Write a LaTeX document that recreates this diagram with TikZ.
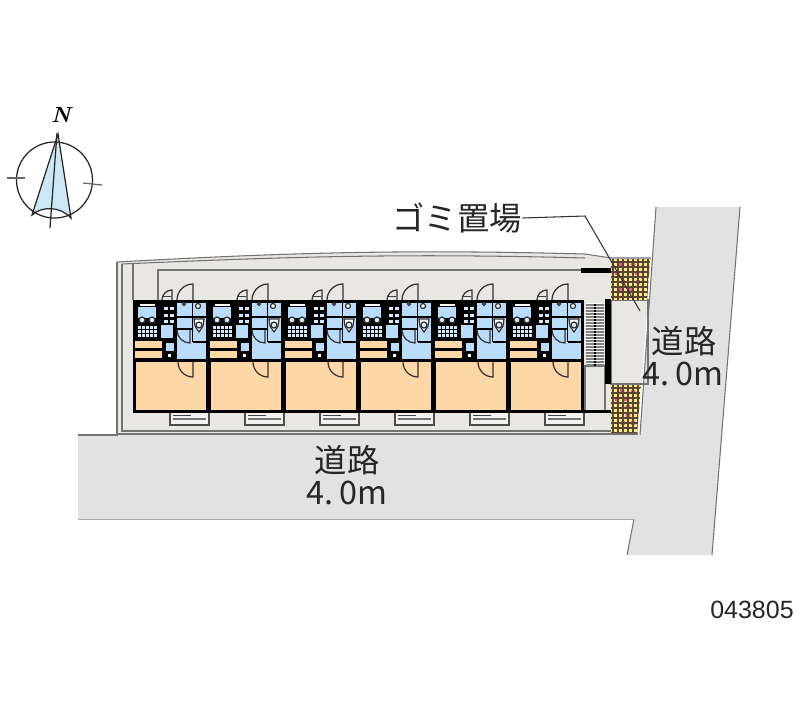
\documentclass[tikz,border=0pt]{standalone}
\usepackage{fontspec}
\newfontfamily\cjk{Noto Sans CJK JP}
\newfontfamily\numfont{Liberation Sans}
\usepackage{tikz}
\definecolor{roadgray}{RGB}{226,226,226}
\definecolor{sitegray}{RGB}{233,231,228}
\definecolor{roompeach}{RGB}{253,215,165}
\definecolor{wetblue}{RGB}{185,220,250}
\definecolor{tileyellow}{RGB}{252,232,140}
\definecolor{tilebrown}{RGB}{90,70,45}
\definecolor{tilepink}{RGB}{228,90,150}
\definecolor{needleblue}{RGB}{205,232,245}
\tikzset{
	thinline/.style = {line width = 0.25pt, black!75},
	siteline/.style = {line width = 0.3pt, black!55},
	wall/.style = {line width = 0.5pt, black},
	doorline/.style = {line width = 0.35pt, black!80},
	tileline/.style = {line width = 0.42pt, tilebrown},
	northline/.style = {line width = 0.35pt, black!85},
	bigtext/.style = {font = \cjk\fontsize{9.2}{10}\selectfont, text = black!85, inner sep = 0pt},
}

\begin{document}
\begin{tikzpicture}[x = 0.01cm, y = -0.01cm]
	\useasboundingbox (0,0) rectangle (800,727);

	% roads
	\begin{scope}
		\fill [roadgray] (78,435) -- (640,435) -- (656,207) -- (740,207) -- (712,555) -- (627,555) -- (634,519) -- (78,519) -- cycle;
		\draw [siteline] (656,207) -- (640,435);
		\draw [siteline] (740,207) -- (712,555);
		\draw [siteline] (634,519) -- (627,555);
		\draw [siteline] (78,435) -- (118,435);
		\draw [thinline, black!35] (78,519) -- (634,519);
	\end{scope}

	% site
	\begin{scope}
		\fill [sitegray] (117,262) .. controls (280,253) and (400,249) .. (585,254) -- (611,258) -- (651,258) -- (638,433) -- (117,433) -- cycle;
		\draw [siteline] (117,262) .. controls (280,253) and (400,249) .. (585,254) -- (611,258) -- (651,258);
		\draw [siteline] (122,264) .. controls (280,257) and (400,253) .. (585,258);
		\draw [siteline] (117,262) -- (117,434) -- (638,434);
		\draw [siteline] (122,264) -- (122,431) -- (611,431);
		\draw [siteline] (133,263) -- (133,300);
		\draw [siteline] (158,300) -- (158,270) -- (582,270);
		\draw [siteline] (585,366) rectangle (605,412);
		\draw [siteline] (611,300) rectangle (648,384);
	\end{scope}

	% building
	\fill [black] (133,300) rectangle (584,413);
	\foreach \dx in {0,75,...,375} {
		\begin{scope}[shift = {(\dx,0)}]
			% balcony
			\draw [siteline, black!70, fill = sitegray!50!white] (170,413) -- (170,425) -- (209,425) -- (209,413);
			\draw [siteline] (173,419) -- (206,419);
			\draw [thinline] (173,415) -- (191,415);
			% rooms
			\fill [roompeach] (136,362) rectangle (206,410);
			\fill [roompeach] (135,341) rectangle (162,348);
			\fill [roompeach] (135,351) rectangle (162,358);
			\fill [wetblue] (177,303) rectangle (206,359);
			\fill [black] (192,303) rectangle (193,342);
			\fill [wetblue] (161,325) rectangle (173,338);
			\fill [wetblue] (138,307) rectangle (156,318);
			\fill [white] (140,304) rectangle (155,306);
			\draw [wall] (177,317) -- (192,317);
			\draw [wall] (177,329) -- (192,329);
			\draw [wall] (193,342) -- (206,342);
			\draw [wall] (193,317) -- (206,317);
			% unit bath tiles
			\foreach \tx in {138,142,...,154} {
				\foreach \ty in {326,330,334} {
					\fill [wetblue!60!white] (\tx,\ty) rectangle +(3,3);
				}
			}
			\draw [doorline, fill = wetblue!60!white] (142,320) circle (3);
			\draw [doorline, fill = wetblue!60!white] (152,320) circle (3);
			% kitchen
			\foreach \ky in {307,314,320} {
				\fill [wetblue!60!white] (164,\ky) rectangle +(4,3);
				\fill [wetblue!60!white] (170,\ky) rectangle +(4,3);
			}
			\fill [wetblue] (166,343) rectangle (174,351);
			\fill [white] (168,354) rectangle +(3,3);
			% toilet
			\draw [doorline, fill = white] (194,319) -- (204,319) -- (203,326) -- (199,332) -- (195,326) -- cycle;
			\draw [doorline, fill = wetblue!50!white] (199,325) circle (3);
			\draw [doorline, fill = white] (198,306) circle (2.5);
			\draw [doorline, fill = white] (184,304) circle (1.5);
			% doors
			\draw [doorline] (177,330) arc (180:90:13) -- (190,330);
			\draw [doorline] (178,362) arc (180:90:15) -- (193,362);
			\draw [doorline] (177,300) arc (180:270:16) -- (193,300);
			\draw [doorline] (162,300) arc (180:270:10) -- (172,300);
			\draw [thinline] (163,296) -- (171,296);
		\end{scope}
	}

	% stairs
	\begin{scope}
		\fill [white] (586,303) rectangle (604,366);
		\foreach \sy in {305,308,...,365} {
			\draw [line width = 0.3pt, black!50] (586,\sy) -- (604,\sy);
		}
		\draw [line width = 0.45pt, black, dash pattern = on 0.6pt off 0.25pt] (595,304) -- (595,366);
		\fill [black] (605,299) rectangle (611,384);
		\fill [black] (581,268) rectangle (611,273);
		\fill [black] (584,410) rectangle (611,413);
	\end{scope}

	% paved tiles
	\begin{scope}
		\clip (611,259) -- (650,259) -- (647,300) -- (611,300) -- cycle;
		\fill [tileyellow] (611,259) rectangle (651,300);
		\foreach \px/\py in {620/265,633/265,617/273,637/273,623/282,638/282,620/290,630/290} {
			\fill [tilepink] (\px,\py) circle (2.5);
		}
		\foreach \tx in {613,618,...,650} {
			\draw [tileline] (\tx,259) -- (\tx,300);
		}
		\foreach \ty in {262,267,...,300} {
			\draw [tileline] (611,\ty) -- (651,\ty);
		}
	\end{scope}
	\begin{scope}
		\clip (611,385) -- (641,385) -- (637,433) -- (611,433) -- cycle;
		\fill [tileyellow] (611,385) rectangle (641,433);
		\foreach \px/\py in {622/391,633/392,617/399,625/399,628/407,628/415,623/423,633/423} {
			\fill [tilepink] (\px,\py) circle (2.5);
		}
		\foreach \tx in {613,618,...,643} {
			\draw [tileline] (\tx,385) -- (\tx,433);
		}
		\foreach \ty in {388,393,...,435} {
			\draw [tileline] (611,\ty) -- (641,\ty);
		}
	\end{scope}

	% labels
	\node [bigtext] (garbage) at (457,218) {ゴミ置場};
	\node [bigtext] (roadRa) at (684,341) {道路};
	\node [bigtext] (roadRb) at (683,374) {4.\,0m};
	\node [bigtext] (roadBa) at (347,460) {道路};
	\node [bigtext] (roadBb) at (347,493) {4.\,0m};
	\node [font = \numfont\fontsize{7.1}{8}\selectfont, text = black!85] (photoNo) at (752,610) {043805};

	% leader
	\coordinate (bend) at (585,216);
	\coordinate (leaderEnd) at (640,311);
	\draw [line width = 0.3pt, black!80] (garbage.east) -- (bend) -- (leaderEnd);

	% north mark
	\begin{scope}
		\fill [needleblue] (58,134) -- (32,215) .. controls (42,206) and (60,206) .. (71,218) -- cycle;
		\draw [northline] (54.5,180) circle (38);
		\draw [northline] (58,134) -- (32,215) .. controls (42,206) and (60,206) .. (71,218) -- cycle;
		\draw [northline] (57,133) -- (50,228);
		\draw [northline, black!60] (7,178) -- (25,178);
		\draw [northline, black!60] (83,183) -- (102,185);
		\node [font = \bfseries\itshape\fontsize{6.2}{7}\selectfont] (north) at (61,115) {N};
	\end{scope}
\end{tikzpicture}
\end{document}
